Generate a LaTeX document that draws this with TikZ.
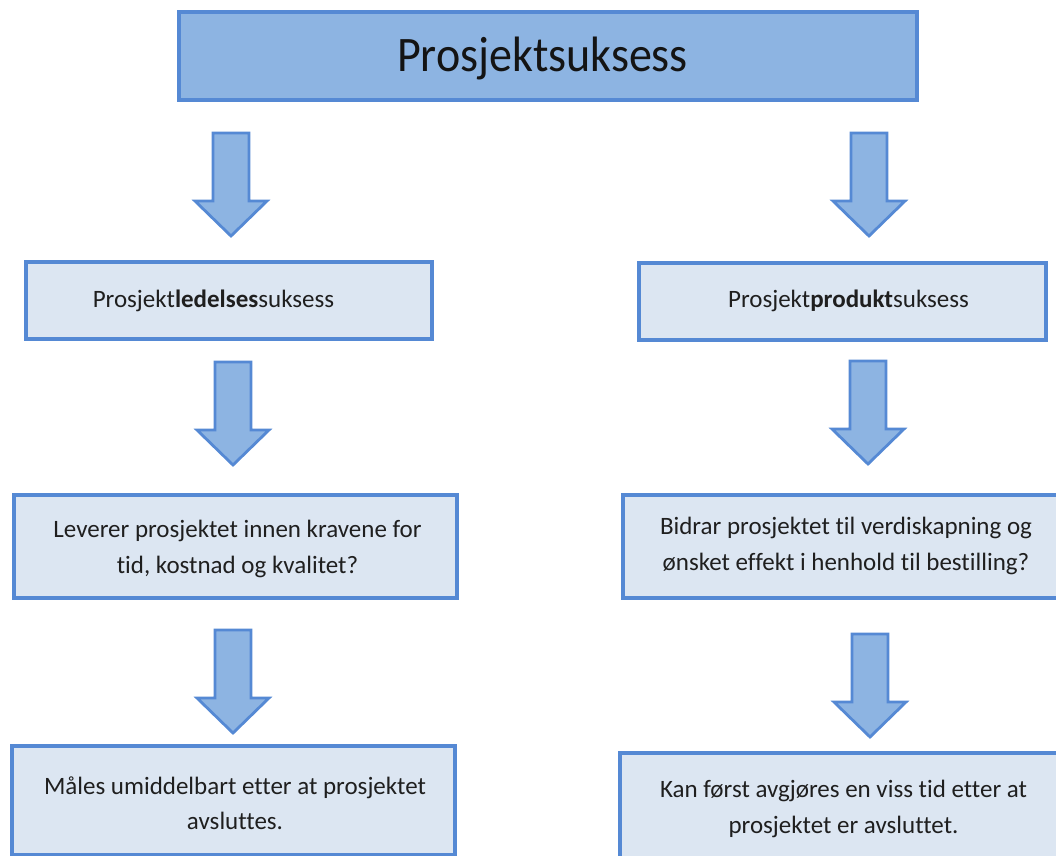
\documentclass[tikz,border=0pt]{standalone}
\usepackage{fontspec}
\setmainfont{Carlito}[Ligatures={TeX,NoCommon}]
\definecolor{boxfill}{HTML}{DCE6F2}
\definecolor{topfill}{HTML}{8DB4E2}
\definecolor{edge}{HTML}{5589D4}
\definecolor{arrowfill}{HTML}{8DB4E2}

\begin{document}
\begin{tikzpicture}[x=0.75pt,y=-0.75pt,
  panel/.style={draw=edge, line width=2.8pt, fill=boxfill, inner sep=0pt},
  headpanel/.style={draw=edge, line width=2.8pt, fill=topfill, inner sep=0pt},
  label/.style={font=\fontsize{18.75}{26.5}\selectfont, align=center, text=black!88, inner sep=0pt},
  blockarrow/.style={draw=edge, line width=2.1pt, fill=arrowfill, line join=miter},
  pics/downblock/.style={code={
    \draw[blockarrow] (-18,0) -- (18,0) -- (18,68) -- (36,68) -- (0,103)
      -- (-36,68) -- (-18,68) -- cycle;}}]
\clip (0,0) rectangle (1056,856);
\fill[white] (0,0) rectangle (1056,856);

% headline box
\node[headpanel, minimum width=553.5pt, minimum height=66pt] (top) at (548,56) {};
\node[font=\fontsize{34.5}{40}\selectfont, text=black!92, inner sep=0pt, yscale=1.08] (toptext) at (542.5,59) {Prosjektsuksess};

% left column
\node[panel, minimum width=304.5pt, minimum height=57.75pt] (l1) at (229,300.5) {};
\node[label] (l1text) at (213.5,301) {Prosjekt\textbf{ledelses}suksess};
\node[panel, minimum width=332.25pt, minimum height=77.25pt] (l2) at (235.5,546.5) {};
\node[label] (l2text) at (237.5,549) {Leverer prosjektet innen kravene for\\tid, kostnad og kvalitet?};
\node[panel, minimum width=332.25pt, minimum height=81.75pt] (l3) at (233.5,800.5) {};
\node[label] (l3text) at (235,803) {Måles umiddelbart etter at prosjektet\\avsluttes.};

% right column
\node[panel, minimum width=305.25pt, minimum height=57.75pt] (r1) at (842.5,301.5) {};
\node[label] (r1text) at (848.5,301) {Prosjekt\textbf{produkt}suksess};
\node[panel, minimum width=334.5pt, minimum height=77.25pt] (r2) at (846,546.5) {};
\node[label] (r2text) at (846,546) {Bidrar prosjektet til verdiskapning og\\ønsket effekt i henhold til bestilling?};
\node[panel, minimum width=335.25pt, minimum height=90pt] (r3) at (843.5,813) {};
\node[label] (r3text) at (843.5,809) {Kan først avgjøres en viss tid etter at\\prosjektet er avsluttet.};

% downward block arrows
\pic (al1) at (231,133) {downblock};
\pic (ar1) at (869,133) {downblock};
\pic (al2) at (233,362) {downblock};
\pic (ar2) at (868,361) {downblock};
\pic (al3) at (233,630) {downblock};
\pic (ar3) at (870,634) {downblock};
\end{tikzpicture}
\end{document}
